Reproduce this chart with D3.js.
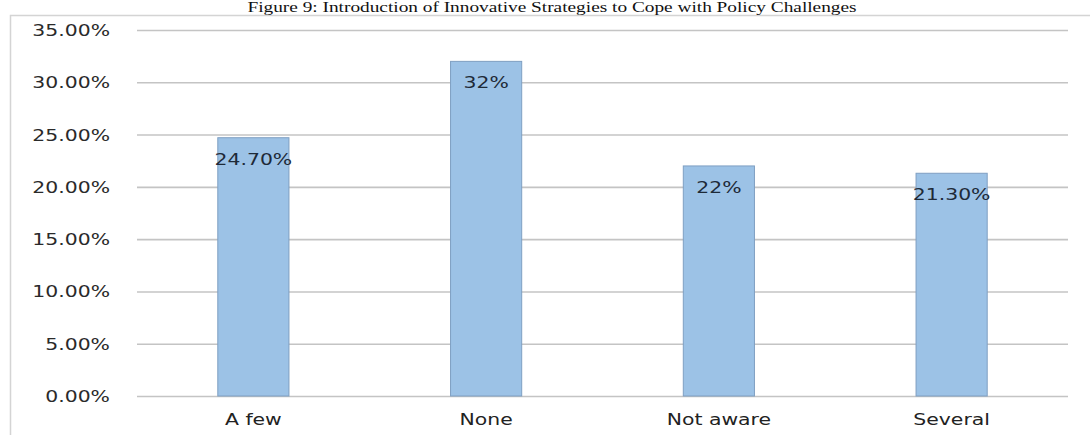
<!DOCTYPE html>
<html>
<head>
<meta charset="utf-8">
<script src="https://cdn.jsdelivr.net/npm/d3@7"></script>
<style>
  html, body { margin: 0; padding: 0; background: #fff; }
  svg { display: block; }
</style>
</head>
<body>
<svg id="chart" width="1090" height="435"></svg>
<script>
const title = "Figure 9: Introduction of Innovative Strategies to Cope with Policy Challenges";
const categories = ["A few", "None", "Not aware", "Several"];
const values = [24.7, 32, 22, 21.3];
const valueLabels = ["24.70%", "32%", "22%", "21.30%"];
const yTicks = [0, 5, 10, 15, 20, 25, 30, 35];

const svg = d3.select("#chart");
const W = 1090, H = 435;
const plot = { left: 137, right: 1068, top: 30, bottom: 396 };
const stretch = 1.36;
const font = "'DejaVu Sans', Verdana, sans-serif";

// frame
svg.append("path")
  .attr("d", `M10.5,${H} L10.5,15.5 L${W},15.5`)
  .attr("fill", "none").attr("stroke", "#d4d4d4").attr("stroke-width", 1.5);

// title
svg.append("text")
  .attr("transform", "translate(552,12) scale(1.38,1)")
  .attr("text-anchor", "middle")
  .attr("font-family", "'Liberation Serif', 'Times New Roman', serif")
  .attr("font-size", 14).attr("fill", "#111")
  .text(title);

const x = d3.scaleBand().domain(categories).range([plot.left, plot.right]).paddingInner(0.69).paddingOuter(0.345);
const y = d3.scaleLinear().domain([0, 35]).range([plot.bottom, plot.top]);

// gridlines via axis
const yAxis = d3.axisLeft(y).tickValues(yTicks)
  .tickSize(-(plot.right - plot.left))
  .tickFormat(d => d3.format(".2f")(d) + "%");
const gy = svg.append("g").attr("transform", `translate(${plot.left},0)`).call(yAxis);
gy.select(".domain").remove();
gy.selectAll(".tick line").attr("stroke", "#c4c4c4").attr("stroke-width", 1.6);
gy.selectAll(".tick text")
  .attr("x", null).attr("dy", null)
  .attr("font-family", font)
  .attr("font-size", 15).attr("fill", "#2a2a2a")
  .attr("text-anchor", "end")
  .attr("transform", `translate(-27,5.5) scale(${stretch},1)`);

// bars
svg.append("g").selectAll("rect").data(values).join("rect")
  .attr("x", (d, i) => x(categories[i]) + 0.5)
  .attr("width", x.bandwidth() - 1)
  .attr("y", d => y(d))
  .attr("height", d => y(0) - y(d))
  .attr("fill", "#9cc2e6")
  .attr("stroke", "#7f9fc2").attr("stroke-width", 1);

// value labels
svg.append("g").selectAll("text").data(values).join("text")
  .attr("transform", (d, i) => `translate(${x(categories[i]) + x.bandwidth() / 2},${y(d) + 27}) scale(${stretch},1)`)
  .attr("text-anchor", "middle")
  .attr("font-family", font)
  .attr("font-size", 15).attr("fill", "#1e2a38")
  .text((d, i) => valueLabels[i]);

// x axis labels
const xAxis = d3.axisBottom(x).tickSize(0).tickPadding(0);
const gx = svg.append("g").attr("transform", `translate(0,${plot.bottom})`).call(xAxis);
gx.select(".domain").remove();
gx.selectAll(".tick text")
  .attr("y", null).attr("dy", null)
  .attr("font-family", font)
  .attr("font-size", 15).attr("fill", "#222")
  .attr("transform", `translate(0,29) scale(${stretch},1)`);
</script>
</body>
</html>
